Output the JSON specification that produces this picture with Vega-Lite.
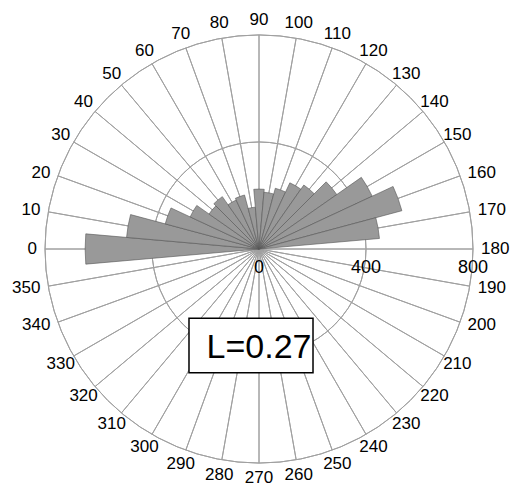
{
  "$schema": "https://vega.github.io/schema/vega-lite/v6.json",
  "width": 504,
  "height": 488,
  "autosize": {"type": "none"},
  "padding": {"left": 7, "top": 5, "right": 0, "bottom": 0},
  "background": "white",
  "config": {"view": {"stroke": null}, "text": {"font": "Liberation Sans", "color": "black"}},
  "datasets": {
    "bins": [
      {"angle": 0, "start": -5, "end": 5, "count": 650},
      {"angle": 10, "start": 5, "end": 15, "count": 497},
      {"angle": 20, "start": 15, "end": 25, "count": 363},
      {"angle": 30, "start": 25, "end": 35, "count": 284},
      {"angle": 40, "start": 35, "end": 45, "count": 228},
      {"angle": 50, "start": 45, "end": 55, "count": 239},
      {"angle": 60, "start": 55, "end": 65, "count": 202},
      {"angle": 70, "start": 65, "end": 75, "count": 209},
      {"angle": 80, "start": 75, "end": 85, "count": 157},
      {"angle": 90, "start": 85, "end": 95, "count": 224},
      {"angle": 100, "start": 95, "end": 105, "count": 213},
      {"angle": 110, "start": 105, "end": 115, "count": 235},
      {"angle": 120, "start": 115, "end": 125, "count": 273},
      {"angle": 130, "start": 125, "end": 135, "count": 292},
      {"angle": 140, "start": 135, "end": 145, "count": 355},
      {"angle": 150, "start": 145, "end": 155, "count": 467},
      {"angle": 160, "start": 155, "end": 165, "count": 553},
      {"angle": 170, "start": 165, "end": 175, "count": 452}
    ],
    "dirs": [
      {"angle": 0}, {"angle": 10}, {"angle": 20}, {"angle": 30}, {"angle": 40}, {"angle": 50},
      {"angle": 60}, {"angle": 70}, {"angle": 80}, {"angle": 90}, {"angle": 100}, {"angle": 110},
      {"angle": 120}, {"angle": 130}, {"angle": 140}, {"angle": 150}, {"angle": 160}, {"angle": 170},
      {"angle": 180}, {"angle": 190}, {"angle": 200}, {"angle": 210}, {"angle": 220}, {"angle": 230},
      {"angle": 240}, {"angle": 250}, {"angle": 260}, {"angle": 270}, {"angle": 280}, {"angle": 290},
      {"angle": 300}, {"angle": 310}, {"angle": 320}, {"angle": 330}, {"angle": 340}, {"angle": 350}
    ],
    "rings": [
      {"r": 400, "a0": 0, "a1": 180}, {"r": 400, "a0": 180, "a1": 360},
      {"r": 800, "a0": 0, "a1": 180}, {"r": 800, "a0": 180, "a1": 360}
    ],
    "scaleticks": [{"value": 0}, {"value": 400}, {"value": 800}],
    "stat": [{"label": "L=0.27"}]
  },
  "layer": [
    {
      "data": {"name": "rings"},
      "mark": {"type": "arc", "fill": "transparent", "stroke": "#a0a0a0", "strokeWidth": 1},
      "encoding": {
        "theta": {"field": "a0", "type": "quantitative", "stack": null, "scale": {"domain": [0, 360], "range": [4.71238898038469, 10.995574287564276]}},
        "theta2": {"field": "a1"},
        "radius": {"field": "r", "type": "quantitative", "scale": {"type": "linear", "domain": [0, 800], "range": [0, 214], "zero": true}},
        "radius2": {"field": "r"}
      }
    },
    {
      "data": {"name": "dirs"},
      "mark": {"type": "arc", "fill": "transparent", "stroke": "#a0a0a0", "strokeWidth": 1},
      "encoding": {
        "theta": {"field": "angle", "type": "quantitative", "stack": null, "scale": {"domain": [0, 360], "range": [4.71238898038469, 10.995574287564276]}},
        "theta2": {"field": "angle"},
        "radius": {"datum": 800, "type": "quantitative", "scale": {"type": "linear", "domain": [0, 800], "range": [0, 214], "zero": true}}
      }
    },
    {
      "data": {"name": "bins"},
      "mark": {"type": "arc", "fill": "#999999", "stroke": "#555555", "strokeWidth": 0.6},
      "encoding": {
        "theta": {"field": "start", "type": "quantitative", "stack": null, "scale": {"domain": [0, 360], "range": [4.71238898038469, 10.995574287564276]}},
        "theta2": {"field": "end"},
        "radius": {"field": "count", "type": "quantitative", "scale": {"type": "linear", "domain": [0, 800], "range": [0, 214], "zero": true}}
      }
    },
    {
      "data": {"name": "dirs"},
      "transform": [{"filter": "datum.angle >= 160 && datum.angle <= 200"}],
      "mark": {"type": "text", "radius": 222, "fontSize": 17, "align": "left", "baseline": "middle"},
      "encoding": {
        "theta": {"field": "angle", "type": "quantitative", "stack": null, "scale": {"domain": [0, 360], "range": [4.71238898038469, 10.995574287564276]}},
        "text": {"field": "angle", "type": "quantitative", "format": "d"}
      }
    },
    {
      "data": {"name": "dirs"},
      "transform": [{"filter": "datum.angle >= 340 || datum.angle <= 20"}],
      "mark": {"type": "text", "radius": 222, "fontSize": 17, "align": "right", "baseline": "middle"},
      "encoding": {
        "theta": {"field": "angle", "type": "quantitative", "stack": null, "scale": {"domain": [0, 360], "range": [4.71238898038469, 10.995574287564276]}},
        "text": {"field": "angle", "type": "quantitative", "format": "d"}
      }
    },
    {
      "data": {"name": "dirs"},
      "transform": [{"filter": "(datum.angle > 20 && datum.angle < 160) || (datum.angle > 200 && datum.angle < 340)"}],
      "mark": {"type": "text", "radius": 229, "fontSize": 17, "align": "center", "baseline": "middle"},
      "encoding": {
        "theta": {"field": "angle", "type": "quantitative", "stack": null, "scale": {"domain": [0, 360], "range": [4.71238898038469, 10.995574287564276]}},
        "text": {"field": "angle", "type": "quantitative", "format": "d"}
      }
    },
    {
      "data": {"name": "scaleticks"},
      "mark": {"type": "text", "fontSize": 18, "align": "center", "baseline": "alphabetic", "dy": 24},
      "encoding": {
        "x": {"field": "value", "type": "quantitative", "axis": null, "scale": {"domain": [-942.06, 942.06], "nice": false, "zero": false}},
        "y": {"datum": 0, "type": "quantitative", "axis": null, "scale": {"domain": [-912.1, 912.1], "nice": false, "zero": false}},
        "text": {"field": "value", "type": "quantitative", "format": "d"}
      }
    },
    {
      "data": {"name": "stat"},
      "mark": {"type": "rect", "fill": "white", "stroke": "black", "strokeWidth": 1.5},
      "encoding": {
        "x": {"datum": -261.7, "type": "quantitative", "axis": null, "scale": {"domain": [-942.06, 942.06], "nice": false, "zero": false}},
        "x2": {"datum": 201.9},
        "y": {"datum": -259, "type": "quantitative", "axis": null, "scale": {"domain": [-912.1, 912.1], "nice": false, "zero": false}},
        "y2": {"datum": -462.4}
      }
    },
    {
      "data": {"name": "stat"},
      "mark": {"type": "text", "fontSize": 34, "align": "center", "baseline": "alphabetic"},
      "encoding": {
        "x": {"datum": 0, "type": "quantitative", "axis": null, "scale": {"domain": [-942.06, 942.06], "nice": false, "zero": false}},
        "y": {"datum": -408.6, "type": "quantitative", "axis": null, "scale": {"domain": [-912.1, 912.1], "nice": false, "zero": false}},
        "text": {"field": "label", "type": "nominal"}
      }
    }
  ]
}
